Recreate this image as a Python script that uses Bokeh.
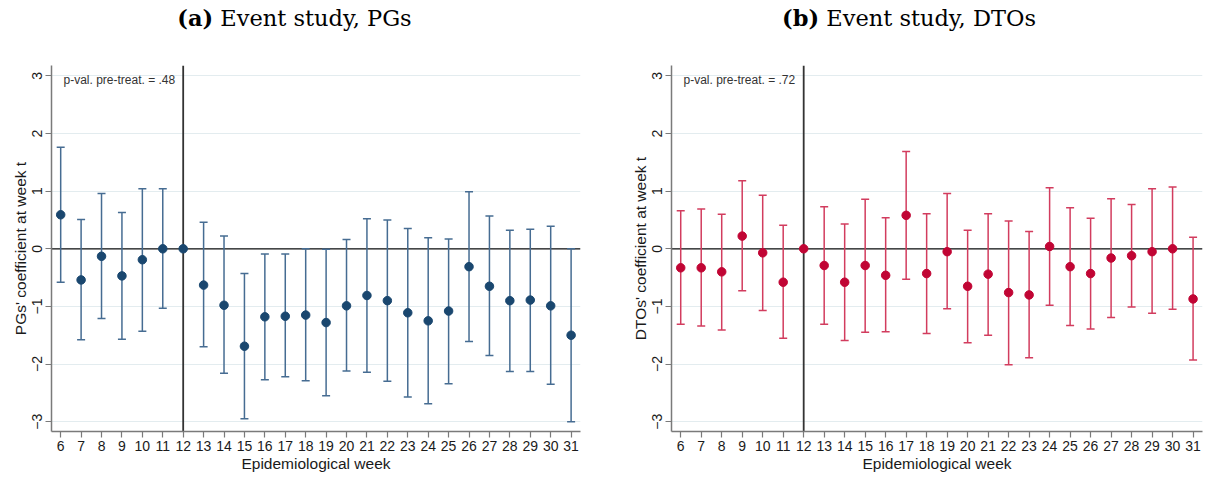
import math
from bokeh.plotting import figure
from bokeh.models import (ColumnDataSource, Whisker, TeeHead, Span, Label,
                          FixedTicker, Range1d, Div)
from bokeh.layouts import row, column
from bokeh.embed import file_html
from bokeh.resources import INLINE

nan = float("nan")

weeks = list(range(6, 32))
y_ticks = [-3, -2, -1, 0, 1, 2, 3]
x_label = "Epidemiological week"

# Panel (a): PGs
pg_coef = [0.59, -0.54, -0.13, -0.47, -0.19, 0.00, 0.00, -0.63, -0.98, -1.69,
           -1.18, -1.17, -1.15, -1.28, -0.99, -0.81, -0.90, -1.11, -1.25, -1.08,
           -0.31, -0.65, -0.90, -0.89, -0.99, -1.50]
pg_hi = [1.76, 0.51, 0.96, 0.63, 1.04, 1.04, nan, 0.46, 0.22, -0.43,
         -0.09, -0.09, 0.00, -0.01, 0.16, 0.52, 0.50, 0.35, 0.19, 0.17,
         0.99, 0.57, 0.32, 0.34, 0.39, 0.00]
pg_lo = [-0.58, -1.58, -1.21, -1.57, -1.43, -1.03, nan, -1.70, -2.16, -2.95,
         -2.27, -2.22, -2.29, -2.55, -2.12, -2.14, -2.30, -2.57, -2.69, -2.34,
         -1.61, -1.85, -2.13, -2.13, -2.35, -3.00]

# Panel (b): DTOs
dto_coef = [-0.33, -0.33, -0.40, 0.22, -0.07, -0.58, 0.00, -0.29, -0.58, -0.29,
            -0.46, 0.58, -0.43, -0.05, -0.65, -0.44, -0.76, -0.80, 0.04, -0.31,
            -0.43, -0.16, -0.12, -0.05, 0.00, -0.87]
dto_hi = [0.66, 0.69, 0.60, 1.18, 0.93, 0.41, nan, 0.73, 0.43, 0.86,
          0.54, 1.69, 0.61, 0.96, 0.32, 0.61, 0.48, 0.30, 1.06, 0.71,
          0.53, 0.87, 0.77, 1.04, 1.07, 0.20]
dto_lo = [-1.31, -1.34, -1.41, -0.73, -1.07, -1.55, nan, -1.31, -1.59, -1.45,
          -1.44, -0.53, -1.47, -1.04, -1.63, -1.50, -2.01, -1.89, -0.98, -1.33,
          -1.39, -1.19, -1.01, -1.12, -1.05, -1.93]

SANS = "Liberation Sans"
SERIF = "DejaVu Serif"
FH = 366


def make_panel(ylabel, pval, coef, lo, hi, marker_color, line_color,
               fw, bl, br):
    p = figure(frame_width=fw, frame_height=FH, output_backend="svg",
               toolbar_location=None, x_range=Range1d(5.55, 31.46),
               y_range=Range1d(-3.17, 3.18), min_border_left=bl,
               min_border_right=br, min_border_top=25, min_border_bottom=0)
    p.outline_line_color = None
    p.background_fill_color = "white"
    p.border_fill_color = "white"

    p.xaxis.ticker = FixedTicker(ticks=weeks)
    p.yaxis.ticker = FixedTicker(ticks=y_ticks)
    p.xgrid.visible = False
    p.ygrid.ticker = FixedTicker(ticks=y_ticks)
    p.ygrid.grid_line_color = "#e3ecef"
    p.ygrid.grid_line_width = 1

    for ax in (p.xaxis[0], p.yaxis[0]):
        ax.axis_line_color = "#7a7a7a"
        ax.axis_line_width = 1.5
        ax.major_tick_line_color = "#7a7a7a"
        ax.major_tick_line_width = 1.2
        ax.major_tick_out = 6
        ax.major_tick_in = 0
        ax.minor_tick_out = 0
        ax.minor_tick_in = 0
        ax.major_label_text_font = SANS
        ax.major_label_text_font_size = "14px"
        ax.major_label_text_color = "#1a1a1a"
        ax.axis_label_text_font = SANS
        ax.axis_label_text_font_size = "15.5px"
        ax.axis_label_text_font_style = "normal"
        ax.axis_label_text_color = "#1a1a1a"
        ax.major_label_standoff = 3
        ax.axis_label_standoff = 1
    p.yaxis.major_label_orientation = "vertical"
    p.yaxis.axis_label = ylabel
    p.xaxis.axis_label = x_label

    p.add_layout(Span(location=0, dimension="width", line_color="#111111",
                      line_width=1.3, level="underlay"))
    p.add_layout(Span(location=12, dimension="height", line_color="#333333",
                      line_width=1.8, level="underlay"))

    idx = [i for i in range(len(weeks)) if not math.isnan(lo[i])]
    wsrc = ColumnDataSource(dict(x=[weeks[i] for i in idx],
                                 lo=[lo[i] for i in idx],
                                 hi=[hi[i] for i in idx]))
    w = Whisker(source=wsrc, base="x", lower="lo", upper="hi",
                line_color=line_color, line_width=1.5,
                upper_head=TeeHead(size=8, line_color=line_color, line_width=1.5),
                lower_head=TeeHead(size=8, line_color=line_color, line_width=1.5))
    p.add_layout(w)

    src = ColumnDataSource(dict(x=weeks, y=coef))
    p.scatter("x", "y", source=src, size=8.5, fill_color=marker_color,
              line_color=marker_color, marker="circle")

    p.add_layout(Label(x=12, y=FH - 14, x_units="screen", y_units="screen",
                       text=pval, text_font=SANS, text_font_size="12px",
                       text_color="#333333", text_baseline="alphabetic"))
    return p


def make_title(tag, ttl, width, pad):
    html = ('<div style="display:block; width:%dpx; box-sizing:border-box; '
            'font-family:\'DejaVu Serif\', serif; font-size:22.5px; '
            'color:#000; text-align:center; padding-top:2px; %s">'
            '<b>%s</b> %s</div>' % (width, pad, tag, ttl))
    return Div(text=html, width=width, height=40, margin=(0, 0, 0, 0))


p1 = make_panel("PGs' coefficient at week t", "p-val. pre-treat. = .48",
                pg_coef, pg_lo, pg_hi, "#1a476f", "#466c92", 529, 51, 20)
p2 = make_panel("DTOs' coefficient at week t", "p-val. pre-treat. = .72",
                dto_coef, dto_lo, dto_hi, "#c10534", "#d23c5e", 531, 71, 8)

t1 = make_title("(a)", "Event study, PGs", 600, "padding-right:11px;")
t2 = make_title("(b)", "Event study, DTOs", 610, "padding-left:8px;")

layout = row(column(t1, p1), column(t2, p2))
open("out.html", "w").write(file_html(layout, INLINE))
